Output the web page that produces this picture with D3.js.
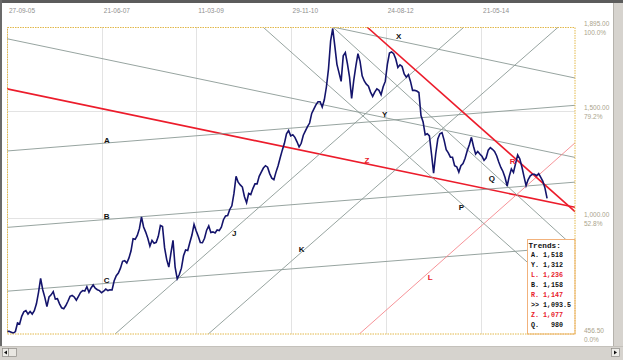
<!DOCTYPE html>
<html>
<head>
<meta charset="utf-8">
<script src="https://cdn.jsdelivr.net/npm/d3@7"></script>
<style>
  html, body { margin: 0; padding: 0; background: #fff; }
  svg { display: block; font-family: "Liberation Sans", Arial, sans-serif; }
</style>
</head>
<body>
<svg id="chart" width="623" height="360"></svg>
<script>
// price series, one value every 14 days from startDate
const startDate = "2005-09-27";
const endDate = "2016-02-06";
const stepDays = 14;
const prices = [
  469, 469, 465, 461, 468, 508, 503, 539, 560, 566,
  550, 562, 550, 566, 598, 652, 717, 664, 628, 585,
  630, 640, 655, 620, 622, 598, 579, 575, 590, 610,
  633, 637, 630, 615, 633, 651, 660, 658, 678, 652,
  672, 686, 671, 664, 660, 650, 657, 667, 660, 664,
  663, 706, 730, 742, 765, 797, 800, 789, 812, 845,
  903, 900, 918, 950, 1005, 958, 934, 905, 868, 895,
  882, 886, 914, 965, 960, 860, 805, 770, 835, 895,
  770, 715, 735, 765, 823, 850, 848, 885, 920, 970,
  940, 915, 885, 884, 905, 943, 963, 932, 935, 930,
  944, 941, 957, 992, 1010, 1012, 1040, 1057, 1115, 1195,
  1168, 1155, 1145, 1100, 1072, 1115, 1110, 1138, 1160, 1160,
  1195, 1215, 1234, 1245, 1238, 1208, 1187, 1180, 1215, 1245,
  1282, 1318, 1350, 1395, 1410, 1385, 1390, 1378, 1357, 1333,
  1350, 1388, 1408, 1428, 1445, 1490, 1510, 1530, 1545, 1545,
  1520, 1554, 1615, 1700, 1830, 1888, 1805, 1720, 1680, 1640,
  1760, 1775, 1722, 1660, 1560, 1645, 1712, 1770, 1734, 1666,
  1642, 1627, 1618, 1590, 1570, 1590, 1605, 1598, 1578, 1615,
  1640, 1720, 1773, 1778, 1770, 1745, 1705, 1718, 1710, 1675,
  1660, 1672, 1640, 1598, 1598, 1595, 1588, 1480, 1450, 1390,
  1395, 1385, 1300, 1210, 1300, 1370, 1395, 1400, 1365, 1320,
  1305, 1285, 1285, 1245, 1240, 1215, 1245, 1255, 1280, 1315,
  1343, 1378, 1335, 1300, 1312, 1300, 1290, 1270, 1282, 1318,
  1330, 1322, 1312, 1292, 1262, 1237, 1218, 1190, 1150, 1195,
  1230, 1214, 1255, 1296, 1278, 1240, 1195, 1152, 1180, 1198,
  1205, 1205, 1198, 1208, 1190, 1172, 1140, 1092
];

// top axis dates, right axis levels
const dateTicks = ["2005-09-27", "2007-06-21", "2009-03-11", "2010-11-29", "2012-08-24", "2014-05-21"];
const priceLevels = [1895, 1500, 1000, 456.5];
const levelPercents = ["100.0%", "79.2%", "52.8%", "0.0%"];

// trend lines: name, first point, second point  [date, price]
const trendNames = ["Y", "X", "Z", "A", "B", "C", "J", "K", "L", "P", "Q", "R"];
const trendFrom = [
  ["2005-09-27", 1840], ["2011-09-06", 1895], ["2005-09-27", 1605], ["2005-09-27", 1314],
  ["2005-09-27", 956], ["2005-09-27", 657], ["2007-09-17", 456.5], ["2009-05-30", 456.5],
  ["2012-03-01", 456.5], ["2010-05-29", 1895], ["2011-09-06", 1895], ["2012-04-21", 1895]
];
const trendTo = [
  ["2016-02-06", 1284], ["2016-02-06", 1656], ["2016-02-06", 1050], ["2016-02-06", 1528],
  ["2016-02-06", 1168], ["2016-02-06", 866], ["2014-01-28", 1895], ["2015-10-18", 1895],
  ["2016-02-06", 1352], ["2016-02-06", 594], ["2016-02-06", 860], ["2016-02-06", 1030]
];

// letters written on the chart
const labelNames = ["A", "B", "C", "J", "K", "X", "Y", "Z", "R", "Q", "P", "L"];
const labelDates = ["2007-07-25", "2007-07-23", "2007-07-23", "2009-11-19", "2011-02-11", "2012-11-19",
  "2012-08-17", "2012-04-21", "2014-12-18", "2014-08-02", "2014-01-10", "2013-06-17"];
const labelPrices = [1365, 1008, 708, 926, 851, 1851, 1484, 1268, 1266, 1187, 1051, 722];

// legend box
const legendKeys = ["A", "Y", "L", "B", "R", ">>", "Z", "Q"];
const legendValues = ["1,518", "1,312", "1,236", "1,158", "1,147", "1,093.5", "1,077", "980"];

const redTrends = ["Z", "R"];
const pinkTrends = ["L"];

const parse = d3.utcParse("%Y-%m-%d");
const svg = d3.select("#chart");
const plot = { left: 7, right: 575, top: 27, bottom: 334 };

const x = d3.scaleUtc()
  .domain([parse(startDate), parse(endDate)])
  .range([plot.left, plot.right]);
const y = d3.scaleLinear()
  .domain([456.5, 1895])
  .range([plot.bottom, plot.top]);

// window frame
svg.append("rect").attr("width", 623).attr("height", 360).attr("fill", "#fff");
svg.append("rect").attr("x", 0).attr("y", 0).attr("width", 623).attr("height", 3).attr("fill", "#5c5c5c");
svg.append("rect").attr("x", 0).attr("y", 0).attr("width", 2).attr("height", 346).attr("fill", "#6a6a6a");
svg.append("rect").attr("x", 613).attr("y", 3).attr("width", 10).attr("height", 357).attr("fill", "#d6d3ce");
svg.append("line").attr("x1", 613.5).attr("x2", 613.5).attr("y1", 3).attr("y2", 346).attr("stroke", "#b5b2ac");
svg.append("rect").attr("x", 0).attr("y", 346).attr("width", 623).attr("height", 14).attr("fill", "#d6d3ce");
svg.append("line").attr("x1", 0).attr("x2", 623).attr("y1", 346.5).attr("y2", 346.5).attr("stroke", "#c4c1bb");
// scroll buttons
svg.append("rect").attr("x", 2.5).attr("y", 348.5).attr("width", 6).attr("height", 8)
  .attr("fill", "#eeede9").attr("stroke", "#8d8b86").attr("stroke-width", 0.7);
svg.append("rect").attr("x", 8.5).attr("y", 348.5).attr("width", 8).attr("height", 8)
  .attr("fill", "#e9e7e2").attr("stroke", "#8d8b86").attr("stroke-width", 0.7);
svg.append("path").attr("d", "M4,352.5 L7,350.5 L7,354.5 Z").attr("fill", "#111");
svg.append("rect").attr("x", 611.5).attr("y", 348.5).attr("width", 8).attr("height", 8)
  .attr("fill", "#eeede9").attr("stroke", "#8d8b86").attr("stroke-width", 0.7);
svg.append("path").attr("d", "M617,352.5 L614,350.5 L614,354.5 Z").attr("fill", "#111");

svg.append("clipPath").attr("id", "plot-clip")
  .append("rect")
  .attr("x", plot.left).attr("y", plot.top)
  .attr("width", plot.right - plot.left).attr("height", plot.bottom - plot.top);

// grid
const grid = svg.append("g").attr("stroke", "#e3e3e3").attr("stroke-width", 1);
grid.selectAll(".vg").data(dateTicks.map(parse)).join("line")
  .attr("x1", d => Math.round(x(d)) + 0.5).attr("x2", d => Math.round(x(d)) + 0.5)
  .attr("y1", plot.top).attr("y2", plot.bottom);
grid.selectAll(".hg").data([1500, 1000]).join("line")
  .attr("x1", plot.left).attr("x2", plot.right)
  .attr("y1", d => Math.round(y(d)) + 0.5).attr("y2", d => Math.round(y(d)) + 0.5);

// top date axis
const topAxis = svg.append("g")
  .attr("transform", `translate(0, ${plot.top - 11})`)
  .call(d3.axisTop(x).tickValues(dateTicks.map(parse)).tickSize(0).tickFormat(d3.utcFormat("%d-%m-%y")));
topAxis.select(".domain").remove();
topAxis.selectAll("text")
  .attr("text-anchor", "start").attr("dx", 1.5).attr("dy", 0)
  .attr("fill", "#8f8f8f").style("font-size", "6.5px").style("font-family", "Liberation Sans, Arial, sans-serif");

// right price axis with percentages
const rightAxis = svg.append("g")
  .attr("transform", `translate(${plot.right}, 0)`)
  .call(d3.axisRight(y).tickValues(priceLevels).tickSize(0).tickFormat(d3.format(",.2f")));
rightAxis.select(".domain").remove();
rightAxis.selectAll("text")
  .attr("x", 9).attr("dy", -2)
  .attr("fill", "#aaa48c").style("font-size", "6.5px").style("font-family", "Liberation Sans, Arial, sans-serif");
rightAxis.selectAll(".tick").append("text")
  .attr("x", 9).attr("dy", 7.5)
  .attr("fill", "#aaa48c").style("font-size", "6.5px")
  .text((d, i) => levelPercents[i]);

const inner = svg.append("g").attr("clip-path", "url(#plot-clip)");

// trend lines
const trendLine = d3.line().x(d => x(parse(d[0]))).y(d => y(d[1]));
inner.selectAll(".trend").data(trendNames).join("path")
  .attr("class", "trend")
  .attr("fill", "none")
  .attr("d", (d, i) => trendLine([trendFrom[i], trendTo[i]]))
  .attr("stroke", d => redTrends.includes(d) ? "#ec1c2b" : pinkTrends.includes(d) ? "#f5878c" : "#8b9a95")
  .attr("stroke-width", d => redTrends.includes(d) ? 1.6 : 0.9);

// price line
const priceLine = d3.line()
  .x((d, i) => x(d3.utcDay.offset(parse(startDate), i * stepDays)))
  .y(d => y(d));
inner.append("path")
  .datum(prices)
  .attr("fill", "none")
  .attr("stroke", "#14146c")
  .attr("stroke-width", 1.6)
  .attr("stroke-linejoin", "miter")
  .attr("d", priceLine);

// trend letters
svg.append("g").selectAll("text").data(labelNames).join("text")
  .attr("x", (d, i) => x(parse(labelDates[i])))
  .attr("y", (d, i) => y(labelPrices[i]))
  .attr("text-anchor", "middle")
  .attr("dominant-baseline", "central")
  .attr("fill", d => redTrends.includes(d) || pinkTrends.includes(d) ? "#e8202a" : "#111")
  .style("font-size", "8px")
  .style("font-weight", "bold")
  .text(d => d);

// legend
const legend = svg.append("g").style("font-family", "Liberation Mono, Courier New, monospace");
legend.append("rect")
  .attr("x", 527.5).attr("y", 239.5).attr("width", 47.5).attr("height", 94.5)
  .attr("fill", "#fff").attr("stroke", "#f2b27c").attr("stroke-width", 1);
legend.append("text")
  .attr("x", 528.5).attr("y", 247.5)
  .attr("fill", "#111").style("font-size", "7.7px").style("font-weight", "bold")
  .text("Trends:");
legend.selectAll(".row").data(legendKeys).join("text")
  .attr("class", "row")
  .attr("x", 531).attr("y", (d, i) => 257.3 + i * 10)
  .attr("fill", d => redTrends.includes(d) || pinkTrends.includes(d) ? "#e8202a" : "#111")
  .style("font-size", "6.7px").style("font-weight", "bold")
  .style("white-space", "pre")
  .text((d, i) => d === ">>" ? ">> " + legendValues[i] : d + ". " + legendValues[i].padStart(5, " "));

// plot border
svg.append("rect")
  .attr("x", plot.left + 0.5).attr("y", plot.top + 0.5)
  .attr("width", plot.right - plot.left - 0.5).attr("height", plot.bottom - plot.top - 0.5)
  .attr("fill", "none").attr("stroke", "#e2b84a").attr("stroke-width", 1)
  .attr("stroke-dasharray", "1.5,1");
</script>
</body>
</html>
